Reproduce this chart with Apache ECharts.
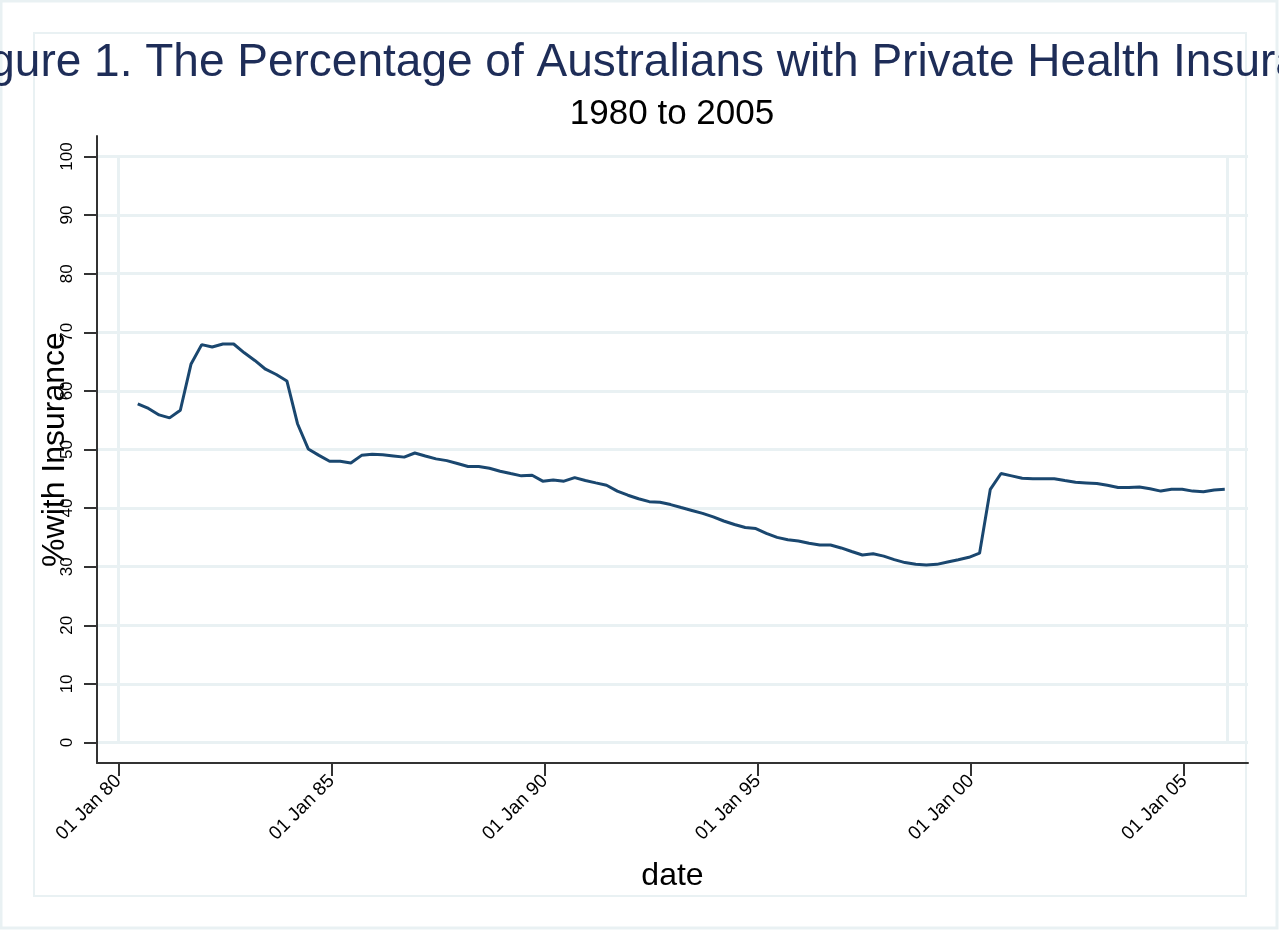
<!DOCTYPE html>
<html>
<head>
<meta charset="utf-8">
<title>Private Health Insurance Coverage</title>
<script src="https://cdn.jsdelivr.net/npm/echarts@6/dist/echarts.min.js"></script>
<style>
  html, body { margin: 0; padding: 0; background: #ffffff; }
  #chart { width: 1279px; height: 930px; }
</style>
</head>
<body>
<div id="chart"></div>
<script>
// Quarter-end months of each observation
const quarters = [
  '1980-06', '1980-09', '1980-12',
  '1981-03', '1981-06', '1981-09', '1981-12',
  '1982-03', '1982-06', '1982-09', '1982-12',
  '1983-03', '1983-06', '1983-09', '1983-12',
  '1984-03', '1984-06', '1984-09', '1984-12',
  '1985-03', '1985-06', '1985-09', '1985-12',
  '1986-03', '1986-06', '1986-09', '1986-12',
  '1987-03', '1987-06', '1987-09', '1987-12',
  '1988-03', '1988-06', '1988-09', '1988-12',
  '1989-03', '1989-06', '1989-09', '1989-12',
  '1990-03', '1990-06', '1990-09', '1990-12',
  '1991-03', '1991-06', '1991-09', '1991-12',
  '1992-03', '1992-06', '1992-09', '1992-12',
  '1993-03', '1993-06', '1993-09', '1993-12',
  '1994-03', '1994-06', '1994-09', '1994-12',
  '1995-03', '1995-06', '1995-09', '1995-12',
  '1996-03', '1996-06', '1996-09', '1996-12',
  '1997-03', '1997-06', '1997-09', '1997-12',
  '1998-03', '1998-06', '1998-09', '1998-12',
  '1999-03', '1999-06', '1999-09', '1999-12',
  '2000-03', '2000-06', '2000-09', '2000-12',
  '2001-03', '2001-06', '2001-09', '2001-12',
  '2002-03', '2002-06', '2002-09', '2002-12',
  '2003-03', '2003-06', '2003-09', '2003-12',
  '2004-03', '2004-06', '2004-09', '2004-12',
  '2005-03', '2005-06', '2005-09', '2005-12'
];

// Percentage of the population with private hospital cover
const coverage = [
  57.8, 57.0, 55.9,
  55.4, 56.7, 64.6, 67.9,
  67.5, 68.0, 68.0, 66.5,
  65.2, 63.7, 62.8, 61.7,
  54.4, 50.1, 49.0, 48.0,
  48.0, 47.7, 49.0, 49.2,
  49.1, 48.9, 48.7, 49.4,
  48.9, 48.4, 48.1, 47.6,
  47.1, 47.1, 46.8, 46.3,
  45.9, 45.5, 45.6, 44.6,
  44.8, 44.6, 45.2, 44.7,
  44.3, 43.9, 42.9, 42.2,
  41.6, 41.1, 41.0, 40.6,
  40.1, 39.6, 39.1, 38.5,
  37.8, 37.2, 36.7, 36.5,
  35.7, 35.0, 34.6, 34.4,
  34.0, 33.7, 33.7, 33.2,
  32.6, 32.0, 32.2, 31.8,
  31.2, 30.7, 30.4, 30.3,
  30.4, 30.8, 31.2, 31.6,
  32.3, 43.2, 45.9, 45.5,
  45.1, 45.0, 45.0, 45.0,
  44.7, 44.4, 44.3, 44.2,
  43.9, 43.5, 43.5, 43.6,
  43.3, 42.9, 43.2, 43.2,
  42.9, 42.8, 43.1, 43.2
];

// Date axis ticks and their labels
const xTickDates = ['1980-01-01', '1985-01-01', '1990-01-01', '1995-01-01', '2000-01-01', '2005-01-01'];
const xTickLabels = ['01 Jan 80', '01 Jan 85', '01 Jan 90', '01 Jan 95', '01 Jan 00', '01 Jan 05'];
const yTicks = [0, 10, 20, 30, 40, 50, 60, 70, 80, 90, 100];

// Date string -> millisecond timestamp (observations sit mid-month)
function ts(str) {
  const p = str.split('-').map(Number);
  return Date.UTC(p[0], p[1] - 1, p[2] || 15);
}

const seriesData = quarters.map((q, i) => [ts(q), coverage[i]]);
const xTickValues = xTickDates.map(ts);
const labelByValue = {};
xTickValues.forEach((v, i) => { labelByValue[v] = xTickLabels[i]; });

const FONT = '"Liberation Sans", Arial, Helvetica, sans-serif';
const frameColor = '#e9f1f3';
const rangeStart = ts('1980-01-01');
const rangeEnd = ts('2006-01-01');

const chart = echarts.init(document.getElementById('chart'), null, { renderer: 'canvas' });

chart.setOption({
  backgroundColor: '#ffffff',
  animation: false,
  graphic: [
    {
      type: 'rect', silent: true, z: -10,
      shape: { x: 1, y: 1, width: 1276, height: 927 },
      style: { fill: null, stroke: frameColor, lineWidth: 3 }
    },
    {
      type: 'rect', silent: true, z: -10,
      shape: { x: 34, y: 33, width: 1212, height: 863 },
      style: { fill: null, stroke: frameColor, lineWidth: 2 }
    }
  ],
  title: [
    {
      text: 'Figure 1. The Percentage of Australians with Private Health Insurance',
      left: 663, top: 40, textAlign: 'center', padding: 0,
      textStyle: { fontFamily: FONT, fontSize: 46, fontWeight: 'normal', color: '#1e2d58' }
    },
    {
      text: '1980 to 2005',
      left: 672, top: 97, textAlign: 'center', padding: 0,
      textStyle: { fontFamily: FONT, fontSize: 35, fontWeight: 'normal', color: '#000000' }
    }
  ],
  grid: { left: 97, top: 136, right: 31, bottom: 167, containLabel: false },
  xAxis: {
    type: 'value',
    min: ts('1979-07-02'),
    max: ts('2006-07-02'),
    name: 'date',
    nameLocation: 'middle',
    nameGap: 97,
    nameTextStyle: { fontFamily: FONT, fontSize: 32, color: '#000' },
    axisLine: { show: true, onZero: false, lineStyle: { color: '#333333', width: 2 } },
    axisTick: { show: true, length: 13, lineStyle: { color: '#333333', width: 2 }, customValues: xTickValues },
    axisLabel: {
      customValues: xTickValues,
      rotate: 45,
      margin: 15,
      fontFamily: FONT,
      fontSize: 19,
      color: '#000',
      formatter: v => labelByValue[v] || ''
    },
    splitLine: { show: false }
  },
  yAxis: {
    type: 'value',
    min: -3.5,
    max: 103.5,
    name: '%with Insurance',
    nameLocation: 'middle',
    nameRotate: 90,
    nameGap: 26,
    nameMoveOverlap: false,
    nameTextStyle: { fontFamily: FONT, fontSize: 32, color: '#000' },
    axisLine: { show: true, onZero: false, lineStyle: { color: '#333333', width: 2 } },
    axisTick: { show: true, length: 13, lineStyle: { color: '#333333', width: 2 }, customValues: yTicks },
    axisLabel: {
      customValues: yTicks,
      rotate: 90,
      margin: 21,
      fontFamily: FONT,
      fontSize: 17,
      color: '#000'
    },
    splitLine: { show: true, lineStyle: { color: frameColor, width: 3 } }
  },
  series: [
    {
      type: 'line',
      data: seriesData,
      symbol: 'none',
      smooth: false,
      lineStyle: { color: '#1a476f', width: 3 },
      z: 3,
      markLine: {
        silent: true,
        symbol: 'none',
        label: { show: false },
        lineStyle: { color: frameColor, width: 3, type: 'solid' },
        data: [
          [{ coord: [rangeStart, 0] }, { coord: [rangeStart, 100] }],
          [{ coord: [rangeEnd, 0] }, { coord: [rangeEnd, 100] }]
        ]
      }
    }
  ]
});
</script>
</body>
</html>
